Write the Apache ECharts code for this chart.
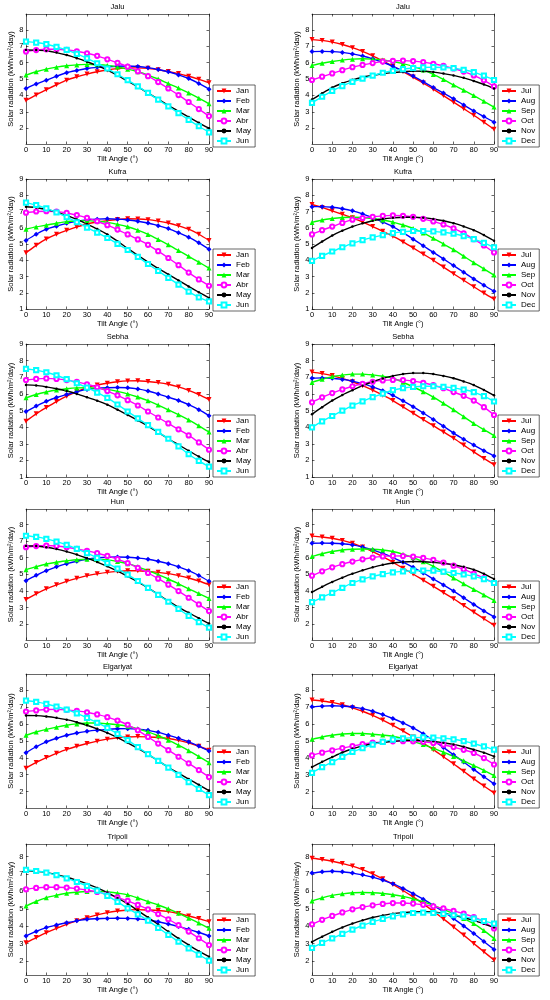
<!DOCTYPE html>
<html><head><meta charset="utf-8">
<script src="https://cdn.jsdelivr.net/npm/echarts@6/dist/echarts.min.js"></script>
<style>html,body{margin:0;padding:0;background:#fff}#c{width:550px;height:1000px}</style>
</head><body><div id="c"></div>
<script>
// ---------------- data ----------------
const tiltAngles = [0,5,10,15,20,25,30,35,40,45,50,55,60,65,70,75,80,85,90];
const xTickLabels = [0,10,20,30,40,50,60,70,80,90];
const yTicksShort = [2,3,4,5,6,7,8];
const yTicksLong = [1,2,3,4,5,6,7,8,9];
const monthsH1 = ['Jan','Feb','Mar','Abr','May','Jun'];
const monthsH2 = ['Jul','Aug','Sep','Oct','Nov','Dec'];
const stations = ['Jalu','Kufra','Sebha','Hun','Elgariyat','Tripoli'];

const jaluH1 = [
 [3.70,4.03,4.35,4.65,4.93,5.13,5.30,5.44,5.55,5.63,5.68,5.68,5.65,5.56,5.45,5.33,5.17,4.98,4.77],
 [4.42,4.70,4.93,5.17,5.38,5.52,5.64,5.71,5.75,5.78,5.79,5.76,5.69,5.58,5.44,5.25,5.03,4.73,4.38],
 [5.24,5.44,5.60,5.72,5.81,5.86,5.89,5.87,5.83,5.73,5.60,5.44,5.24,5.00,4.72,4.45,4.15,3.83,3.49],
 [6.67,6.76,6.81,6.81,6.77,6.69,6.57,6.41,6.20,5.99,5.75,5.47,5.17,4.81,4.42,4.02,3.60,3.17,2.74],
 [6.77,6.76,6.72,6.61,6.46,6.27,6.05,5.81,5.54,5.22,4.87,4.52,4.15,3.77,3.39,3.03,2.68,2.33,2.00],
 [7.28,7.22,7.12,6.96,6.77,6.53,6.26,5.96,5.64,5.29,4.93,4.55,4.15,3.74,3.33,2.92,2.51,2.12,1.75]];
const jaluH2 = [
 [7.40,7.35,7.25,7.10,6.91,6.68,6.41,6.10,5.77,5.45,5.12,4.75,4.38,3.99,3.59,3.19,2.79,2.37,1.94],
 [6.67,6.68,6.67,6.62,6.53,6.40,6.23,6.02,5.77,5.49,5.18,4.84,4.48,4.14,3.79,3.42,3.05,2.71,2.37],
 [5.83,5.96,6.07,6.15,6.21,6.23,6.21,6.16,6.07,5.94,5.77,5.55,5.28,4.97,4.64,4.32,3.99,3.64,3.29],
 [4.94,5.14,5.34,5.54,5.72,5.86,5.97,6.06,6.11,6.12,6.09,6.03,5.93,5.80,5.64,5.45,5.22,4.92,4.55],
 [3.75,4.13,4.48,4.74,4.95,5.11,5.22,5.32,5.39,5.44,5.48,5.47,5.42,5.33,5.22,5.07,4.88,4.67,4.42],
 [3.55,3.92,4.28,4.57,4.82,5.02,5.20,5.38,5.50,5.60,5.67,5.71,5.72,5.70,5.66,5.56,5.42,5.20,4.94]];
const kufraH1 = [
 [4.46,4.92,5.31,5.60,5.84,6.05,6.23,6.35,6.44,6.51,6.55,6.54,6.50,6.41,6.29,6.12,5.91,5.60,5.22],
 [5.22,5.60,5.91,6.10,6.27,6.39,6.48,6.53,6.55,6.53,6.48,6.40,6.29,6.13,5.95,5.70,5.42,5.07,4.67],
 [5.91,6.05,6.16,6.28,6.38,6.42,6.44,6.40,6.33,6.21,6.06,5.85,5.59,5.28,4.95,4.60,4.24,3.88,3.52],
 [6.93,7.00,7.02,6.99,6.91,6.78,6.61,6.40,6.16,5.89,5.59,5.28,4.95,4.56,4.14,3.70,3.24,2.82,2.43],
 [7.29,7.25,7.12,6.96,6.76,6.51,6.23,5.93,5.59,5.17,4.73,4.30,3.88,3.50,3.13,2.76,2.39,2.03,1.68],
 [7.55,7.40,7.19,6.94,6.65,6.34,6.01,5.70,5.37,5.01,4.63,4.21,3.77,3.34,2.92,2.50,2.07,1.72,1.47]];
const kufraH2 = [
 [7.43,7.25,7.04,6.83,6.61,6.35,6.07,5.78,5.48,5.13,4.76,4.38,4.00,3.58,3.17,2.77,2.37,1.98,1.61],
 [7.30,7.30,7.26,7.17,7.04,6.85,6.61,6.36,6.07,5.70,5.30,4.89,4.48,4.08,3.67,3.26,2.85,2.46,2.09],
 [6.33,6.48,6.57,6.63,6.65,6.63,6.57,6.48,6.35,6.17,5.96,5.68,5.35,5.00,4.65,4.25,3.85,3.47,3.09],
 [5.59,5.85,6.07,6.30,6.50,6.60,6.67,6.73,6.76,6.74,6.67,6.55,6.39,6.20,5.96,5.66,5.30,4.91,4.48],
 [4.76,5.15,5.52,5.82,6.07,6.27,6.43,6.54,6.61,6.65,6.65,6.62,6.54,6.43,6.28,6.08,5.85,5.55,5.20],
 [3.96,4.27,4.54,4.80,5.04,5.24,5.41,5.55,5.67,5.75,5.80,5.80,5.78,5.72,5.63,5.49,5.30,5.07,4.80]];
const sebhaH1 = [
 [4.36,4.80,5.18,5.54,5.86,6.14,6.37,6.53,6.64,6.73,6.78,6.79,6.74,6.68,6.58,6.42,6.21,5.96,5.66],
 [4.94,5.27,5.55,5.78,5.96,6.13,6.27,6.34,6.37,6.38,6.37,6.30,6.17,6.00,5.80,5.60,5.35,5.05,4.69],
 [5.76,5.96,6.11,6.23,6.31,6.36,6.37,6.34,6.27,6.15,6.00,5.81,5.59,5.33,5.04,4.75,4.43,4.08,3.71],
 [6.83,6.90,6.93,6.90,6.83,6.72,6.58,6.40,6.17,5.91,5.62,5.30,4.94,4.58,4.22,3.87,3.50,3.08,2.64],
 [6.54,6.51,6.42,6.31,6.17,6.00,5.80,5.59,5.35,5.05,4.73,4.40,4.06,3.68,3.30,2.94,2.58,2.23,1.90],
 [7.50,7.43,7.30,7.12,6.89,6.64,6.37,6.08,5.76,5.36,4.94,4.53,4.12,3.71,3.30,2.84,2.37,1.97,1.62]];
const sebhaH2 = [
 [7.31,7.22,7.10,6.93,6.73,6.49,6.22,5.92,5.60,5.22,4.84,4.46,4.09,3.71,3.33,2.92,2.51,2.12,1.74],
 [6.94,6.96,6.94,6.87,6.77,6.62,6.42,6.19,5.91,5.58,5.23,4.85,4.46,4.05,3.64,3.27,2.92,2.58,2.26],
 [6.69,6.88,7.04,7.13,7.19,7.19,7.14,7.06,6.94,6.70,6.42,6.13,5.80,5.43,5.04,4.63,4.22,3.85,3.49],
 [5.49,5.79,6.05,6.27,6.46,6.61,6.73,6.81,6.84,6.83,6.77,6.67,6.53,6.34,6.11,5.88,5.60,5.20,4.73],
 [4.77,5.20,5.60,5.93,6.22,6.49,6.73,6.93,7.08,7.19,7.25,7.25,7.19,7.08,6.94,6.75,6.53,6.24,5.91],
 [3.99,4.35,4.67,4.99,5.29,5.55,5.80,6.02,6.22,6.34,6.42,6.46,6.46,6.42,6.36,6.25,6.11,5.86,5.54]];
const hunH1 = [
 [3.49,3.83,4.13,4.37,4.58,4.76,4.92,5.03,5.12,5.18,5.22,5.22,5.18,5.12,5.04,4.92,4.78,4.60,4.38],
 [4.62,4.94,5.22,5.45,5.64,5.79,5.91,5.99,6.03,6.04,6.03,5.98,5.91,5.79,5.64,5.45,5.22,4.93,4.58],
 [5.28,5.46,5.62,5.73,5.81,5.88,5.91,5.90,5.87,5.77,5.64,5.45,5.22,4.98,4.72,4.43,4.13,3.84,3.55],
 [6.63,6.70,6.73,6.70,6.63,6.53,6.41,6.27,6.11,5.91,5.68,5.39,5.08,4.74,4.38,3.99,3.59,3.19,2.79],
 [6.71,6.70,6.63,6.52,6.37,6.19,5.97,5.74,5.48,5.19,4.88,4.55,4.19,3.79,3.39,3.03,2.69,2.36,2.04],
 [7.32,7.25,7.13,6.97,6.77,6.53,6.27,5.99,5.68,5.34,4.98,4.60,4.19,3.77,3.35,2.92,2.50,2.13,1.80]];
const hunH2 = [
 [7.30,7.25,7.17,7.04,6.87,6.64,6.37,6.06,5.72,5.37,5.02,4.65,4.28,3.90,3.53,3.13,2.73,2.33,1.94],
 [6.87,6.88,6.87,6.84,6.77,6.64,6.47,6.26,6.01,5.73,5.42,5.08,4.72,4.36,3.99,3.59,3.19,2.80,2.44],
 [6.07,6.24,6.37,6.46,6.51,6.52,6.51,6.46,6.37,6.21,6.01,5.76,5.48,5.14,4.78,4.43,4.09,3.76,3.43],
 [4.92,5.18,5.42,5.61,5.77,5.90,6.01,6.08,6.11,6.10,6.07,5.99,5.87,5.71,5.52,5.30,5.04,4.77,4.48],
 [3.93,4.25,4.54,4.80,5.04,5.24,5.42,5.57,5.68,5.74,5.77,5.76,5.72,5.66,5.58,5.45,5.28,5.03,4.72],
 [3.33,3.62,3.89,4.19,4.48,4.70,4.88,5.01,5.12,5.18,5.22,5.23,5.22,5.16,5.08,4.99,4.88,4.71,4.48]];
const elgariyatH1 = [
 [3.38,3.72,4.01,4.26,4.49,4.68,4.84,4.98,5.10,5.18,5.23,5.25,5.23,5.20,5.14,5.03,4.88,4.68,4.45],
 [4.30,4.65,4.94,5.15,5.33,5.46,5.56,5.63,5.68,5.71,5.72,5.69,5.62,5.50,5.33,5.15,4.94,4.69,4.40],
 [5.33,5.52,5.68,5.81,5.92,6.00,6.05,6.05,6.01,5.95,5.86,5.71,5.53,5.30,5.04,4.74,4.42,4.07,3.71],
 [6.73,6.80,6.85,6.86,6.83,6.77,6.69,6.56,6.40,6.20,5.95,5.62,5.23,4.84,4.45,4.06,3.67,3.27,2.86],
 [6.50,6.49,6.44,6.36,6.25,6.10,5.92,5.71,5.47,5.19,4.88,4.55,4.20,3.82,3.44,3.09,2.74,2.40,2.06],
 [7.38,7.30,7.18,7.03,6.85,6.62,6.36,6.07,5.76,5.41,5.04,4.63,4.22,3.82,3.42,2.99,2.56,2.16,1.79]];
const elgariyatH2 = [
 [7.41,7.35,7.27,7.13,6.95,6.75,6.51,6.23,5.92,5.59,5.23,4.87,4.48,4.06,3.64,3.20,2.75,2.33,1.92],
 [7.01,7.05,7.07,7.05,7.01,6.90,6.75,6.55,6.32,6.06,5.76,5.42,5.03,4.61,4.18,3.75,3.31,2.88,2.46],
 [5.09,5.23,5.33,5.40,5.43,5.43,5.39,5.34,5.27,5.13,4.97,4.78,4.57,4.33,4.08,3.82,3.54,3.25,2.95],
 [4.14,4.30,4.44,4.57,4.69,4.80,4.89,4.94,4.97,4.98,4.97,4.94,4.87,4.77,4.63,4.47,4.28,3.98,3.60],
 [3.45,3.76,4.04,4.31,4.53,4.70,4.83,4.92,4.97,5.01,5.03,5.01,4.97,4.89,4.79,4.65,4.48,4.30,4.08],
 [3.11,3.44,3.74,4.05,4.34,4.57,4.77,4.94,5.07,5.14,5.19,5.20,5.19,5.15,5.09,4.98,4.83,4.67,4.48]];
const tripoliH1 = [
 [3.05,3.35,3.63,3.88,4.11,4.31,4.49,4.65,4.78,4.87,4.93,4.95,4.93,4.90,4.84,4.73,4.59,4.44,4.26],
 [3.44,3.70,3.92,4.07,4.20,4.31,4.40,4.43,4.45,4.46,4.45,4.42,4.36,4.26,4.13,3.98,3.82,3.64,3.44],
 [5.16,5.42,5.64,5.78,5.89,5.95,5.99,6.00,5.98,5.90,5.80,5.62,5.41,5.22,5.00,4.74,4.46,4.18,3.88],
 [6.12,6.20,6.24,6.24,6.22,6.16,6.08,5.97,5.83,5.66,5.45,5.22,4.97,4.70,4.40,4.06,3.69,3.31,2.92],
 [7.19,7.15,7.08,6.96,6.81,6.63,6.43,6.20,5.93,5.62,5.28,4.90,4.51,4.10,3.69,3.30,2.92,2.57,2.25],
 [7.23,7.17,7.08,6.93,6.75,6.54,6.31,6.04,5.74,5.40,5.03,4.68,4.32,3.91,3.50,3.11,2.73,2.37,2.02]];
const tripoliH2 = [
 [7.90,7.83,7.73,7.60,7.45,7.25,7.01,6.72,6.40,6.05,5.68,5.28,4.86,4.42,3.96,3.49,3.01,2.53,2.06],
 [7.05,7.13,7.16,7.13,7.05,6.95,6.82,6.65,6.44,6.17,5.87,5.55,5.20,4.83,4.44,4.02,3.58,3.12,2.67],
 [5.45,5.63,5.77,5.86,5.92,5.94,5.92,5.88,5.81,5.71,5.58,5.40,5.20,4.97,4.72,4.45,4.15,3.75,3.30],
 [4.11,4.37,4.59,4.79,4.97,5.10,5.20,5.28,5.33,5.33,5.30,5.23,5.14,5.02,4.88,4.72,4.53,4.25,3.87],
 [3.10,3.40,3.68,3.93,4.15,4.34,4.50,4.62,4.72,4.78,4.82,4.83,4.82,4.74,4.63,4.50,4.34,4.14,3.92],
 [2.76,3.04,3.30,3.56,3.81,4.04,4.25,4.42,4.57,4.68,4.76,4.78,4.76,4.71,4.63,4.55,4.44,4.30,4.15]];

const panelData = [[jaluH1,jaluH2],[kufraH1,kufraH2],[sebhaH1,sebhaH2],[hunH1,hunH2],[elgariyatH1,elgariyatH2],[tripoliH1,tripoliH2]];
const yRanges = [[1.04,8.96],[1,9],[1,9],[1.05,8.93],[1.03,8.95],[1.2,8.72]];
const yTicks = [yTicksShort,yTicksLong,yTicksLong,yTicksShort,yTicksShort,yTicksShort];

// ---------------- layout & style ----------------
const FONT = 'Liberation Sans, Arial, sans-serif';
const FS = 7.5;
const rowTop = [14,179,344,509,674,844];
const rowBot = [144,309,477,640,808,975];
const colLeft = [26,312];
const colRight = [209,494];
const legendTop = [85,249,415,581,746,914];
const legendLeft = [213,498];
const seriesColors = ['#ff0000','#0000ff','#00ff00','#ff00ff','#000000','#00ffff'];
const seriesSymbols = ['triangle','diamond','triangle','emptyCircle','circle','emptyRect'];
const symbolSizes = [5,5,5,4.2,2.5,4.2];
const symbolRot = [180,0,0,0,0,0];

const grid=[], xAxis=[], yAxis=[], legend=[], series=[];
const txt = {fontSize:FS,color:'#000',fontFamily:FONT};
const line = {onZero:false,lineStyle:{color:'#000',width:0.6}};
const tick = {inside:true,length:2.5,lineStyle:{color:'#000',width:0.6}};
for (let r=0;r<6;r++){
  for (let c=0;c<2;c++){
    const idx = r*2+c;
    grid.push({left:colLeft[c], top:rowTop[r], width:colRight[c]-colLeft[c], height:rowBot[r]-rowTop[r]});
    xAxis.push({type:'value',gridIndex:idx,min:0,max:90,interval:10,position:'bottom',
      name:'Tilt Angle (°)',nameLocation:'middle',nameGap:11,nameTextStyle:txt,
      axisLine:line,axisTick:tick,axisLabel:Object.assign({margin:2,customValues:xTickLabels},txt),splitLine:{show:false}});
    xAxis.push({type:'value',gridIndex:idx,min:0,max:90,interval:10,position:'top',
      name:stations[r],nameLocation:'middle',nameGap:3,nameTextStyle:txt,
      axisLine:line,axisTick:tick,axisLabel:{show:false},splitLine:{show:false}});
    const [mn,mx] = yRanges[r];
    yAxis.push({type:'value',gridIndex:idx,min:mn,max:mx,position:'left',
      name:'Solar radiation (kWh/m²/day)',nameLocation:'middle',nameGap:8.5,nameTextStyle:txt,
      axisLine:line,axisTick:Object.assign({customValues:yTicks[r]},tick),
      axisLabel:Object.assign({margin:2.5,customValues:yTicks[r]},txt),splitLine:{show:false}});
    yAxis.push({type:'value',gridIndex:idx,min:mn,max:mx,position:'right',
      axisLine:line,axisTick:Object.assign({customValues:yTicks[r]},tick),
      axisLabel:{show:false},splitLine:{show:false}});
    const months = c ? monthsH2 : monthsH1;
    legend.push({orient:'vertical',left:legendLeft[c],top:legendTop[r],data:months,
      itemWidth:14,itemHeight:6,itemGap:2,padding:[2,4,2,3],
      borderColor:'#000',borderWidth:0.6,backgroundColor:'#fff',selectedMode:false,
      textStyle:{fontSize:8,color:'#000',fontFamily:FONT}});
    const d = panelData[r][c];
    for (let k=0;k<6;k++){
      series.push({type:'line',name:months[k],xAxisIndex:idx*2,yAxisIndex:idx*2,
        data:tiltAngles.map((a,j)=>[a,d[k][j]]),
        symbol:seriesSymbols[k],symbolSize:symbolSizes[k],symbolRotate:symbolRot[k],
        showAllSymbol:true,smooth:0.3,
        lineStyle:{width:1.4,color:seriesColors[k]},
        itemStyle:{color:seriesColors[k],borderWidth:k===3||k===5?0.8:0},
        emphasis:{disabled:true}});
    }
  }
}
const chart = echarts.init(document.getElementById('c'));
chart.setOption({animation:false,backgroundColor:'#fff',grid,xAxis,yAxis,legend,series});
</script></body></html>
